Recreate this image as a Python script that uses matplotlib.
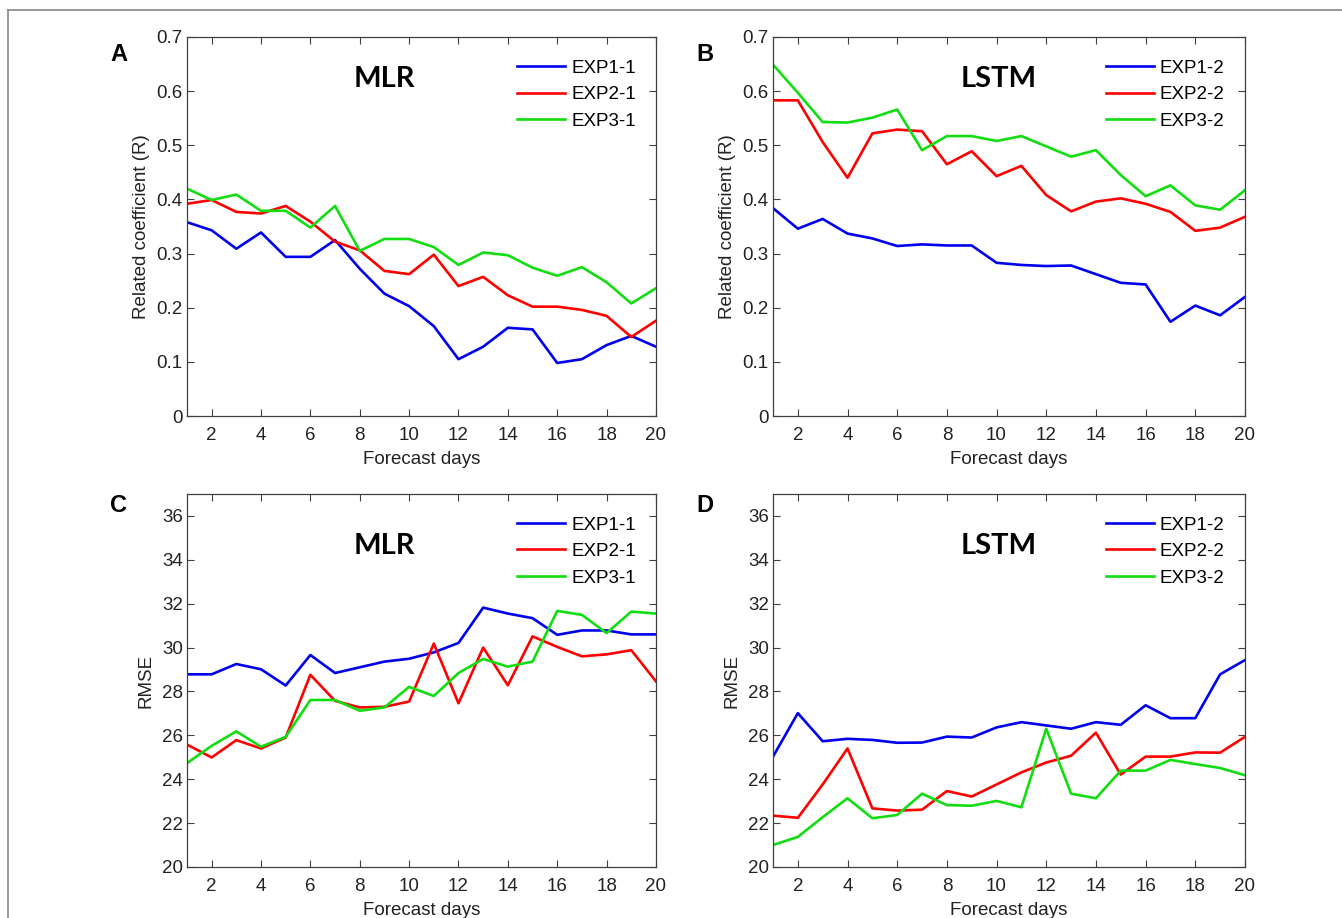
import numpy as np
import matplotlib
matplotlib.use('Agg')
import matplotlib.pyplot as plt
from matplotlib.lines import Line2D

plt.rcParams['font.family'] = ['Liberation Sans', 'DejaVu Sans']

days = np.arange(1, 21)

# Panel A: MLR, correlation
r_mlr_exp1 = [0.358, 0.343, 0.309, 0.339, 0.294, 0.294, 0.325, 0.272, 0.226, 0.203,
              0.166, 0.105, 0.128, 0.163, 0.160, 0.098, 0.105, 0.131, 0.148, 0.128]
r_mlr_exp2 = [0.392, 0.399, 0.377, 0.374, 0.388, 0.359, 0.322, 0.306, 0.268, 0.262,
              0.298, 0.240, 0.257, 0.223, 0.202, 0.202, 0.196, 0.185, 0.146, 0.176]
r_mlr_exp3 = [0.420, 0.399, 0.409, 0.379, 0.379, 0.348, 0.388, 0.305, 0.327, 0.327,
              0.312, 0.279, 0.302, 0.297, 0.274, 0.259, 0.275, 0.247, 0.208, 0.236]

# Panel B: LSTM, correlation
r_lstm_exp1 = [0.384, 0.346, 0.364, 0.337, 0.328, 0.314, 0.317, 0.315, 0.315, 0.283,
               0.279, 0.277, 0.278, 0.262, 0.246, 0.243, 0.174, 0.204, 0.186, 0.220]
r_lstm_exp2 = [0.583, 0.583, 0.506, 0.440, 0.522, 0.529, 0.526, 0.465, 0.489, 0.443,
               0.462, 0.408, 0.378, 0.396, 0.402, 0.392, 0.377, 0.342, 0.348, 0.368]
r_lstm_exp3 = [0.649, 0.597, 0.543, 0.542, 0.551, 0.566, 0.491, 0.517, 0.517, 0.508,
               0.517, 0.498, 0.479, 0.491, 0.445, 0.406, 0.426, 0.389, 0.381, 0.417]

# Panel C: MLR, RMSE
e_mlr_exp1 = [28.78, 28.78, 29.25, 29.01, 28.27, 29.66, 28.84, 29.10, 29.36, 29.49,
              29.78, 30.21, 31.82, 31.55, 31.34, 30.58, 30.78, 30.78, 30.60, 30.60]
e_mlr_exp2 = [25.58, 24.99, 25.78, 25.40, 25.90, 28.76, 27.57, 27.27, 27.30, 27.54,
              30.18, 27.46, 30.00, 28.28, 30.51, 30.03, 29.60, 29.69, 29.88, 28.46]
e_mlr_exp3 = [24.73, 25.52, 26.18, 25.48, 25.93, 27.61, 27.61, 27.12, 27.27, 28.21,
              27.79, 28.84, 29.48, 29.13, 29.36, 31.67, 31.49, 30.66, 31.64, 31.55]

# Panel D: LSTM, RMSE
e_lstm_exp1 = [25.03, 27.01, 25.73, 25.84, 25.79, 25.66, 25.67, 25.94, 25.90, 26.36,
               26.60, 26.45, 26.30, 26.60, 26.48, 27.37, 26.78, 26.78, 28.78, 29.43]
e_lstm_exp2 = [22.34, 22.24, 23.76, 25.40, 22.67, 22.57, 22.61, 23.46, 23.21, 23.76,
               24.31, 24.76, 25.07, 26.12, 24.21, 25.03, 25.03, 25.22, 25.21, 25.93]
e_lstm_exp3 = [21.00, 21.37, 22.27, 23.13, 22.22, 22.37, 23.34, 22.82, 22.79, 23.01,
               22.72, 26.30, 23.34, 23.13, 24.39, 24.39, 24.88, 24.69, 24.51, 24.18]

colors = ['#0000ee', '#ff0000', '#11dd11']
axcol = '#404040'

fig = plt.figure(figsize=(13.42, 9.18), dpi=100)

panels = [
    ('A', 'MLR', 0.422, [0.1393, 0.5468, 0.3495, 0.4129], [r_mlr_exp1, r_mlr_exp2, r_mlr_exp3],
     ['EXP1-1', 'EXP2-1', 'EXP3-1'], 'Related coefficient (R)', (0, 0.7), np.arange(0, 0.71, 0.1)),
    ('B', 'LSTM', 0.478, [0.5760, 0.5468, 0.3517, 0.4129], [r_lstm_exp1, r_lstm_exp2, r_lstm_exp3],
     ['EXP1-2', 'EXP2-2', 'EXP3-2'], 'Related coefficient (R)', (0, 0.7), np.arange(0, 0.71, 0.1)),
    ('C', 'MLR', 0.422, [0.1393, 0.0556, 0.3495, 0.4063], [e_mlr_exp1, e_mlr_exp2, e_mlr_exp3],
     ['EXP1-1', 'EXP2-1', 'EXP3-1'], 'RMSE', (20, 37), np.arange(20, 37, 2)),
    ('D', 'LSTM', 0.478, [0.5760, 0.0556, 0.3517, 0.4063], [e_lstm_exp1, e_lstm_exp2, e_lstm_exp3],
     ['EXP1-2', 'EXP2-2', 'EXP3-2'], 'RMSE', (20, 37), np.arange(20, 37, 2)),
]

for letter, title, tx, pos, series, labels, ylab, ylim, yticks in panels:
    ax = fig.add_axes(pos)
    for vals, lab, c in zip(series, labels, colors):
        ax.plot(days, vals, color=c, lw=1.9, label=lab)
    ax.set_xlim(1, 20)
    ax.set_ylim(*ylim)
    ax.set_xticks(np.arange(2, 21, 2))
    ax.set_yticks(yticks)
    if ylim[1] < 1:
        ax.set_yticklabels(['0' if t == 0 else '%.1f' % t for t in yticks])
    ax.tick_params(direction='in', top=True, right=True, length=5, width=0.8,
                   labelsize=13.5, colors=axcol, labelcolor='#222222')
    ax.tick_params(axis='x', pad=8)
    ax.tick_params(axis='y', pad=3)
    for s in ax.spines.values():
        s.set_color(axcol)
        s.set_linewidth(0.9)
    ax.set_xlabel('Forecast days', fontsize=13.5, color='#222222', labelpad=5)
    ax.set_ylabel(ylab, fontsize=13.5, color='#222222', labelpad=5)
    ax.text(tx, 0.89 if ylim[1] < 1 else 0.86, title, transform=ax.transAxes,
            ha='center', va='center', fontsize=21, fontweight='bold', family='Lato')
    ax.text(-0.145, 0.955 if ylim[1] < 1 else 0.97, letter, transform=ax.transAxes,
            ha='center', va='center', fontsize=17, fontweight='bold')
    ax.legend(loc='upper right', frameon=False, fontsize=13.5, handlelength=2.6,
              labelspacing=0.5, borderaxespad=0.3, handletextpad=0.3,
              bbox_to_anchor=(0.985, 0.975))

# thin gray frame line at top and left edges of the figure
fig.add_artist(Line2D([0.006, 1.0], [0.989, 0.989], color='#888888', lw=1.2,
                      transform=fig.transFigure))
fig.add_artist(Line2D([0.006, 0.006], [0.0, 0.989], color='#888888', lw=1.2,
                      transform=fig.transFigure))

fig.savefig('out.png', dpi=100)
